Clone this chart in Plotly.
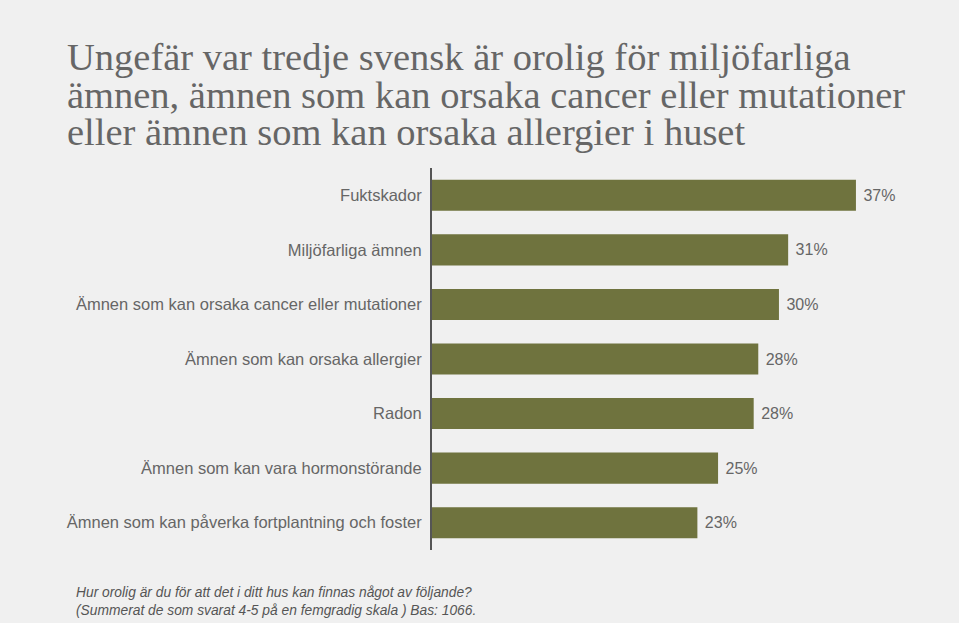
import plotly.graph_objects as go

categories = [
    "Fuktskador",
    "Miljöfarliga ämnen",
    "Ämnen som kan orsaka cancer eller mutationer",
    "Ämnen som kan orsaka allergier",
    "Radon",
    "Ämnen som kan vara hormonstörande",
    "Ämnen som kan påverka fortplantning och foster",
]
values = [36.9, 31.0, 30.2, 28.4, 28.0, 24.9, 23.1]
value_labels = ["37%", "31%", "30%", "28%", "28%", "25%", "23%"]

title_lines = [
    "Ungefär var tredje svensk är orolig för miljöfarliga",
    "ämnen, ämnen som kan orsaka cancer eller mutationer",
    "eller ämnen som kan orsaka allergier i huset",
]
footnote_text = ("<i>Hur orolig är du för att det i ditt hus kan finnas något av följande?<br>"
                 "(Summerat de som svarat 4-5 på en femgradig skala ) Bas: 1066.</i>")

BG = "#f0f0f0"
BAR = "#6f733e"
TXT = "#666666"

W, H = 959, 623
ML, MR, MT, MB = 432, 10, 168, 73
w_plot = W - ML - MR
h_plot = H - MT - MB


def px_x(x):
    return (x - ML) / w_plot


def px_y(y):
    return (H - MB - y) / h_plot


fig = go.Figure(go.Bar(
    y=categories, x=values, orientation="h",
    marker=dict(color=BAR, line=dict(width=0)),
    width=0.57,
    text=[" " + t for t in value_labels],
    textposition="outside",
    textfont=dict(family="Liberation Sans, Arial, sans-serif", size=16, color=TXT),
    cliponaxis=False,
    hoverinfo="skip",
))

# base font 29 -> line spacing 1.3*29 ~ 37.7px; glyphs drawn at 38.5px
title_html = "<br>".join('<span style="font-size:38.5px">%s</span>' % l for l in title_lines)

annotations = [
    dict(text=title_html, x=px_x(65), y=px_y(34), xref="paper", yref="paper",
         showarrow=False, xanchor="left", yanchor="top", align="left",
         font=dict(family="Liberation Serif, Georgia, serif", size=29, color=TXT)),
    dict(text=footnote_text, x=px_x(74), y=px_y(583), xref="paper", yref="paper",
         showarrow=False, xanchor="left", yanchor="top", align="left",
         font=dict(family="Liberation Sans, Arial, sans-serif", size=13.8, color="#555555")),
]

fig.update_layout(
    width=W, height=H,
    paper_bgcolor=BG, plot_bgcolor=BG,
    margin=dict(l=ML, r=MR, t=MT, b=MB),
    showlegend=False,
    xaxis=dict(range=[0, 45], visible=False, fixedrange=True),
    yaxis=dict(autorange="reversed", showline=True, linecolor="#555555", linewidth=2,
               ticks="", showgrid=False, zeroline=False,
               tickfont=dict(family="Liberation Sans, Arial, sans-serif", size=16.5, color=TXT),
               ticklabelstandoff=5),
    annotations=annotations,
)

fig.write_html("out.html")
